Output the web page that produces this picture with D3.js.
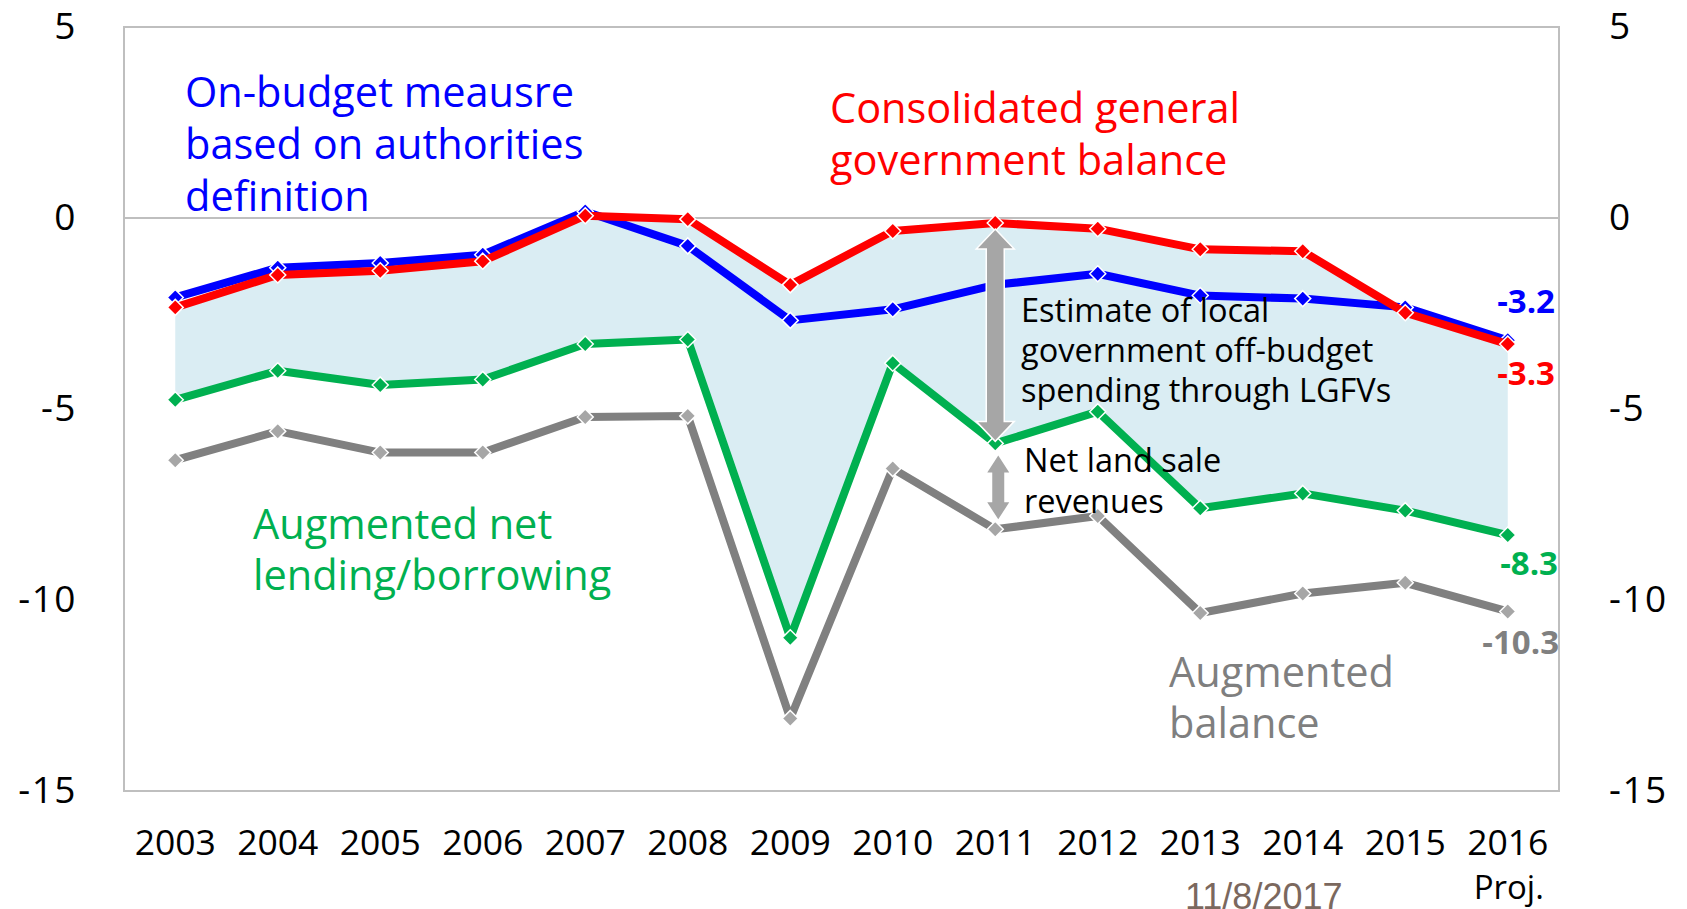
<!DOCTYPE html>
<html>
<head>
<meta charset="utf-8">
<script src="https://cdn.jsdelivr.net/npm/d3@7"></script>
<style>
  html, body { margin: 0; padding: 0; background: #fff; }
  svg { display: block; }
  text { font-family: "Open Sans", "Noto Sans", sans-serif; }
</style>
</head>
<body>
<svg id="chart" width="1687" height="909"></svg>
<script>
// Fiscal balance measures, percent of GDP
const years = ["2003","2004","2005","2006","2007","2008","2009","2010","2011","2012","2013","2014","2015","2016"];
const onBudget     = [-2.08, -1.30, -1.18, -0.96, 0.17, -0.73, -2.68, -2.39, -1.75, -1.46, -2.03, -2.11, -2.34, -3.2];
const consolidated = [-2.34, -1.49, -1.38, -1.13, 0.06, -0.03, -1.75, -0.34, -0.13, -0.28, -0.82, -0.87, -2.48, -3.3];
const augmentedNet = [-4.76, -4.00, -4.37, -4.23, -3.30, -3.18, -10.99, -3.80, -5.90, -5.07, -7.60, -7.21, -7.66, -8.3];
const augmentedBal = [-6.34, -5.58, -6.14, -6.14, -5.21, -5.18, -13.10, -6.56, -8.15, -7.80, -10.34, -9.83, -9.55, -10.3];
const yTicks = [5, 0, -5, -10, -15];

const svg = d3.select("#chart");
const plot = { left: 124, right: 1559, top: 27, bottom: 791 };

const x = d3.scaleBand().domain(years).range([plot.left, plot.right]);
const cx = yr => x(yr) + x.bandwidth() / 2;
const y = d3.scaleLinear().domain([-15, 5]).range([plot.bottom, plot.top]);

// plot frame and zero line
svg.append("rect")
  .attr("x", plot.left).attr("y", plot.top)
  .attr("width", plot.right - plot.left).attr("height", plot.bottom - plot.top)
  .attr("fill", "none").attr("stroke", "#BFBFBF").attr("stroke-width", 2);
svg.append("line")
  .attr("x1", plot.left).attr("x2", plot.right)
  .attr("y1", y(0)).attr("y2", y(0))
  .attr("stroke", "#BFBFBF").attr("stroke-width", 2);

// shaded gap between consolidated balance and augmented net lending
const band = years.map((yr, i) => ({ yr, hi: consolidated[i], lo: augmentedNet[i] }));
svg.append("path")
  .datum(band)
  .attr("fill", "#DAEDF3")
  .attr("d", d3.area().x(d => cx(d.yr)).y0(d => y(d.lo)).y1(d => y(d.hi)));

// axes
const fmt = d => String(d);
const left = svg.append("g").attr("transform", `translate(77,0)`)
  .call(d3.axisLeft(y).tickValues(yTicks).tickSize(0).tickPadding(0).tickFormat(fmt));
const right = svg.append("g").attr("transform", `translate(1609,0)`)
  .call(d3.axisRight(y).tickValues(yTicks).tickSize(0).tickPadding(0).tickFormat(fmt));
[left, right].forEach(g => {
  g.select(".domain").remove();
  g.selectAll("text").attr("font-size", 37).attr("letter-spacing", 1.5)
    .attr("fill", "#000").attr("font-family", null);
});
const bottom = svg.append("g").attr("transform", `translate(0,855)`)
  .call(d3.axisBottom(x).tickSize(0).tickPadding(0));
bottom.select(".domain").remove();
bottom.selectAll("text").attr("dy", 0).attr("font-size", 35.5).attr("fill", "#000").attr("font-family", null);

svg.append("text").attr("x", cx("2016") + 1).attr("y", 899)
  .attr("text-anchor", "middle").attr("font-size", 33).attr("fill", "#000").text("Proj.");
svg.append("text").attr("x", 1185).attr("y", 909)
  .attr("font-size", 36).attr("fill", "#7B685E")
  .style("font-family", "'Liberation Sans', Arial, sans-serif").text("11/8/2017");

// series lines with diamond markers
const series = [
  { values: augmentedBal, line: "#808080", marker: "#A6A6A6" },
  { values: augmentedNet, line: "#00B050", marker: "#00B050" },
  { values: onBudget,     line: "#0000FF", marker: "#0000FF" },
  { values: consolidated, line: "#FF0000", marker: "#FF0000" }
];
const lineGen = d3.line().x(d => cx(d.yr)).y(d => y(d.v));
const diamond = h => `M0,${-h}L${h},0L0,${h}L${-h},0Z`;

series.forEach(s => {
  const pts = years.map((yr, i) => ({ yr, v: s.values[i] }));
  svg.append("path").datum(pts)
    .attr("fill", "none").attr("stroke", s.line).attr("stroke-width", 8)
    .attr("stroke-linejoin", "round").attr("d", lineGen);
  svg.append("g").selectAll("path").data(pts).join("path")
    .attr("transform", d => `translate(${cx(d.yr)},${y(d.v)})`)
    .attr("d", diamond(8))
    .attr("fill", s.marker).attr("stroke", "#fff").attr("stroke-width", 1.5);
});

// double-headed arrows at 2011
function doubleArrow(xc, y1, y2, shaft, head, headLen) {
  const s = shaft / 2, h = head / 2;
  return `M${xc},${y1}L${xc + h},${y1 + headLen}L${xc + s},${y1 + headLen}` +
         `L${xc + s},${y2 - headLen}L${xc + h},${y2 - headLen}L${xc},${y2}` +
         `L${xc - h},${y2 - headLen}L${xc - s},${y2 - headLen}L${xc - s},${y1 + headLen}` +
         `L${xc - h},${y1 + headLen}Z`;
}
const i11 = years.indexOf("2011");
const ax = cx("2011");
svg.append("path")
  .attr("d", doubleArrow(ax, y(consolidated[i11]) + 6, y(augmentedNet[i11]) - 2, 18, 38, 20))
  .attr("fill", "#A6A6A6").attr("stroke", "#fff").attr("stroke-width", 1.5);
svg.append("path")
  .attr("d", doubleArrow(ax + 3, y(augmentedNet[i11]) + 12, y(augmentedBal[i11]) - 10, 12, 22, 17))
  .attr("fill", "#A6A6A6");

// series names
function label(lines, xPos, y0, lh, color, size) {
  const t = svg.append("text").attr("x", xPos).attr("y", y0)
    .attr("fill", color).attr("font-size", size);
  lines.forEach((l, i) => t.append("tspan").attr("x", xPos).attr("y", y0 + i * lh).text(l));
}
label(["On-budget meausre", "based on authorities", "definition"], 185, 107, 52, "#0000FF", 41.5);
label(["Consolidated general", "government balance"], 830, 123, 52, "#FF0000", 41.5);
label(["Augmented net", "lending/borrowing"], 253, 539, 51, "#00B050", 41.5);
label(["Augmented", "balance"], 1169, 687, 51, "#7F7F7F", 41.5);
label(["Estimate of local", "government off-budget", "spending through LGFVs"], 1021, 322, 40, "#000", 32.5);
label(["Net land sale", "revenues"], 1024, 472, 41, "#000", 32.5);

// end-of-series values
const last = years.length - 1;
[
  { v: onBudget[last],     yPos: 313, xEnd: 1555, color: "#0000FF" },
  { v: consolidated[last], yPos: 385, xEnd: 1555, color: "#FF0000" },
  { v: augmentedNet[last], yPos: 575, xEnd: 1558, color: "#00B050" },
  { v: augmentedBal[last], yPos: 654, xEnd: 1559, color: "#808080" }
].forEach(d => {
  svg.append("text").attr("x", d.xEnd).attr("y", d.yPos)
    .attr("text-anchor", "end").attr("font-weight", "bold").attr("font-size", 33)
    .attr("fill", d.color).text(d3.format(".1f")(d.v).replace("\u2212", "-"));
});
</script>
</body>
</html>
